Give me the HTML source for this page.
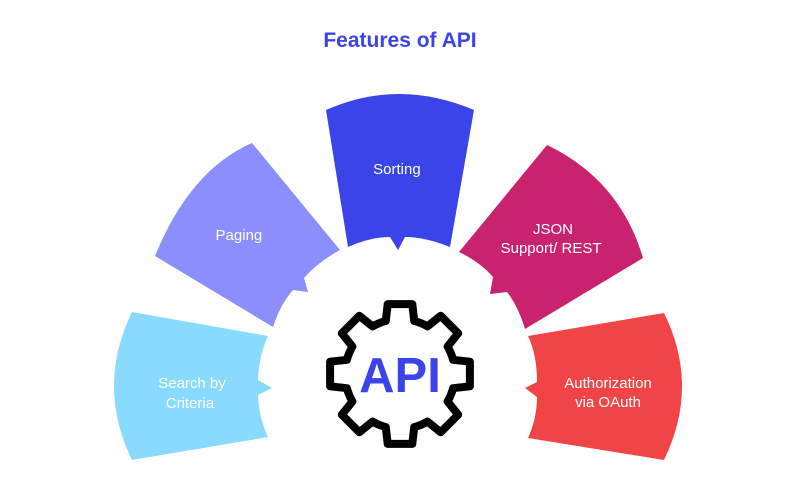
<!DOCTYPE html>
<html><head><meta charset="utf-8"><style>
html,body{margin:0;padding:0;background:#fff;}
svg{display:block;}
text{font-family:"Liberation Sans",sans-serif;}
</style></head><body>
<svg width="800" height="480" viewBox="0 0 800 480" xmlns="http://www.w3.org/2000/svg">
<text x="400" y="47" text-anchor="middle" font-size="21" font-weight="bold" fill="#3B44E9">Features of API</text>
<path d="M132,312 Q96,386 132,460 L268,437 Q259,418 258,395 L272,388 L258,380 Q259,355 268,336 Z" fill="#88DBFE"/>
<path d="M252,143 Q190,170 155,256 L273,327 Q280,305 293,290 L308,292 L304,278 Q318,262 340,250 Z" fill="#8A8FFC"/>
<path d="M326,110 Q398,78 474,110 L450,247 Q425,237 405,237 L398,250 L390,237 Q370,237 348,247 Z" fill="#3B44E9"/>
<path d="M547,145 Q620,180 643,258 L525,329 Q518,306 507,292 L490,294 L493,277 Q480,262 459,252 Z" fill="#C92370"/>
<path d="M664,313 Q700,386 664,460 L528,438 Q537,418 537,397 L525,388 L537,382 Q537,355 528,336 Z" fill="#F04447"/>
<text font-size="15" fill="#fff" text-anchor="middle">
<tspan x="192" y="388">Search by</tspan><tspan x="192" y="408">Criteria</tspan>
<tspan x="241" y="240">Paging</tspan>
<tspan x="399" y="174">Sorting</tspan>
<tspan x="553" y="234">JSON</tspan><tspan x="553" y="253">Support/ REST</tspan>
<tspan x="608" y="388">Authorization</tspan><tspan x="608" y="407">via OAuth</tspan>
</text>
<path fill="none" stroke="#000" stroke-width="8" stroke-linejoin="round" d="M453.1,359.8 L469.9,361.7 L469.9,386.3 L453.1,388.2 A55,55 0 0 1 447.6,401.5 L458.2,414.7 L440.7,432.2 L427.5,421.6 A55,55 0 0 1 414.2,427.1 L412.3,443.9 L387.7,443.9 L385.8,427.1 A55,55 0 0 1 372.5,421.6 L359.3,432.2 L341.8,414.7 L352.4,401.5 A55,55 0 0 1 346.9,388.2 L330.1,386.3 L330.1,361.7 L346.9,359.8 A55,55 0 0 1 352.4,346.5 L341.8,333.3 L359.3,315.8 L372.5,326.4 A55,55 0 0 1 385.8,320.9 L387.7,304.1 L412.3,304.1 L414.2,320.9 A55,55 0 0 1 427.5,326.4 L440.7,315.8 L458.2,333.3 L447.6,346.5 A55,55 0 0 1 453.1,359.8 Z"/>
<text x="400" y="392" text-anchor="middle" font-size="49" font-weight="bold" fill="#3B44E9">API</text>
</svg>
</body></html>
